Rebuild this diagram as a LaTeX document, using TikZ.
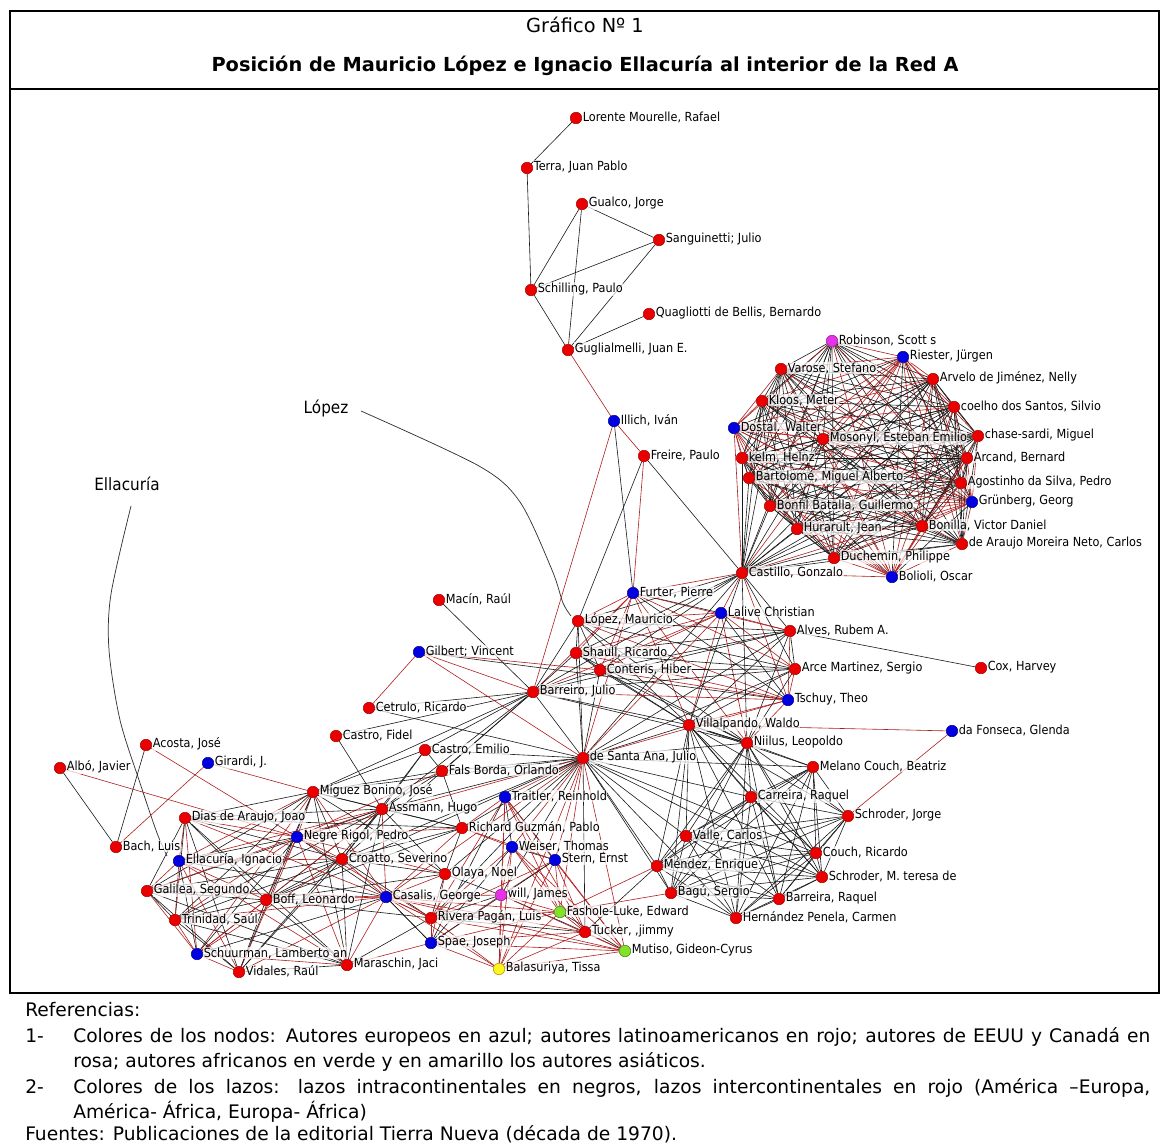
\documentclass[tikz,border=0pt]{standalone}
\usepackage{fontspec}
\setmainfont{DejaVu Sans}
\newfontfamily\narrowf[FakeStretch=0.9]{DejaVu Sans}
\pgfdeclarelayer{bg}
\pgfsetlayers{bg,main}
\tikzset{
  dot/.style={circle, inner sep=0pt, minimum size=8.6pt, line width=0.4pt},
  R/.style={dot, fill={rgb,255:red,235;green,0;blue,0}, draw={rgb,255:red,160;green,0;blue,0}},
  B/.style={dot, fill={rgb,255:red,0;green,0;blue,225}, draw={rgb,255:red,0;green,0;blue,140}},
  P/.style={dot, fill={rgb,255:red,230;green,50;blue,230}, draw={rgb,255:red,150;green,20;blue,150}},
  G/.style={dot, fill={rgb,255:red,130;green,225;blue,40}, draw={rgb,255:red,60;green,130;blue,20}},
  Y/.style={dot, fill={rgb,255:red,255;green,245;blue,30}, draw={rgb,255:red,160;green,150;blue,0}},
  lab/.style={anchor=west, font=\narrowf\fontsize{9.4}{10}\selectfont, inner sep=0.4pt,
    fill=white, fill opacity=0.7, text opacity=1},
  blk/.style={draw=black!90, line width=0.45pt},
  rdl/.style={draw={rgb,255:red,175;green,30;blue,30}, line width=0.45pt},
  ann/.style={font=\narrowf\fontsize{12.7}{14}\selectfont, inner sep=1pt},
  annline/.style={draw=black!80, line width=0.55pt},
  frame/.style={draw=black, line width=1.6pt},
  rf/.style={anchor=base west, inner sep=0pt, font=\fontsize{14}{17}\selectfont},
}
\def\mapR{A}\def\mapP{A}\def\mapB{E}\def\mapG{F}\def\mapY{S}
\newcommand\mknode[5]{%
  \node[#4] (#1) at (#2,#3) {};
  \node[lab] (#1-l) at (#2+6,#3-1) {#5};
  \expandafter\edef\csname grp#1\endcsname{\csname map#4\endcsname}}
\newcommand\mkedge[2]{%
  \edef\ga{\csname grp#1\endcsname}\edef\gb{\csname grp#2\endcsname}%
  \ifx\ga\gb\draw[blk] (#1) -- (#2);\else\draw[rdl] (#1) -- (#2);\fi}
\newcommand\mkclique[1]{\foreach \a [count=\i] in {#1}{\foreach \b [count=\j] in {#1}{\ifnum\j>\i\relax\mkedge{\a}{\b}\fi}}}
\newcommand\mkhub[2]{\foreach \b in {#2}{\mkedge{#1}{\b}}}
\newcommand\mkedges[1]{\foreach \a/\b in {#1}{\mkedge{\a}{\b}}}
\begin{document}
\begin{tikzpicture}[x=0.75pt,y=-0.75pt]
\useasboundingbox (0,0) rectangle (1161,1146);
% frame
\draw[frame] (10,11) rectangle (1159,993);
\draw[frame] (10,89) -- (1159,89);
\node[font=\fontsize{14.5}{17}\selectfont] (h1) at (585,25) {Gráfico Nº 1};
\node[font=\fontsize{14.5}{17}\selectfont\bfseries] (h2) at (585,66) {Posición de Mauricio López e Ignacio Ellacuría al interior de la Red A};
% nodes
\mknode{lor}{576}{118}{R}{Lorente Mourelle, Rafael}
\mknode{ter}{527}{168}{R}{Terra, Juan Pablo}
\mknode{gua}{582}{204}{R}{Gualco, Jorge}
\mknode{san}{659}{240}{R}{Sanguinetti; Julio}
\mknode{sch}{531}{290}{R}{Schilling, Paulo}
\mknode{qua}{649}{314}{R}{Quagliotti de Bellis, Bernardo}
\mknode{gug}{568}{350}{R}{Guglialmelli, Juan E.}
\mknode{ill}{614}{421}{B}{Illich, Iván}
\mknode{fre}{644}{456}{R}{Freire, Paulo}
\mknode{rob}{832}{341}{P}{Robinson, Scott s}
\mknode{rie}{903}{357}{B}{Riester, Jürgen}
\mknode{var}{781}{369}{R}{Varose, Stefano}
\mknode{arv}{933}{379}{R}{Arvelo de Jiménez, Nelly}
\mknode{klo}{762}{401}{R}{Kloos, Meter}
\mknode{coe}{954}{407}{R}{coelho dos Santos, Silvio}
\mknode{dos}{734}{428}{B}{Dostal. Walter}
\mknode{mos}{823}{439}{R}{Mosonyl, Esteban Emilio}
\mknode{cha}{978}{436}{R}{chase-sardi, Miguel}
\mknode{kel}{742}{458}{R}{kelm, Helnz}
\mknode{arc}{967}{458}{R}{Arcand, Bernard}
\mknode{bto}{749}{478}{R}{Bartolomé, Miguel Alberto}
\mknode{ago}{961}{483}{R}{Agostinho da Silva, Pedro}
\mknode{gru}{972}{502}{B}{Grünberg, Georg}
\mknode{bfb}{770}{506}{R}{Bonfil Batalla, Guillermo}
\mknode{hur}{797}{529}{R}{Hurarult, Jean}
\mknode{bnl}{922}{526}{R}{Bonilla, Victor Daniel}
\mknode{ara}{962}{544}{R}{de Araujo Moreira Neto, Carlos}
\mknode{duc}{834}{558}{R}{Duchemin, Philippe}
\mknode{cas}{742}{573}{R}{Castillo, Gonzalo}
\mknode{bol}{892}{577}{B}{Bolioli, Oscar}
\mknode{fur}{633}{593}{B}{Furter, Pierre}
\mknode{lal}{721}{613}{B}{Lalive Christian}
\mknode{mac}{439}{600}{R}{Macín, Raúl}
\mknode{lop}{578}{621}{R}{López, Mauricio}
\mknode{alv}{790}{631}{R}{Alves, Rubem A.}
\mknode{gil}{419}{652}{B}{Gilbert; Vincent}
\mknode{sha}{576}{653}{R}{Shaull, Ricardo}
\mknode{con}{600}{670}{R}{Conteris, Hiber}
\mknode{arce}{795}{669}{R}{Arce Martinez, Sergio}
\mknode{cox}{981}{668}{R}{Cox, Harvey}
\mknode{brr}{533}{692}{R}{Barreiro, Julio}
\mknode{tsc}{788}{700}{B}{Tschuy, Theo}
\mknode{cet}{369}{708}{R}{Cetrulo, Ricardo}
\mknode{vil}{689}{725}{R}{Villalpando, Waldo}
\mknode{fon}{952}{731}{B}{da Fonseca, Glenda}
\mknode{nii}{747}{743}{R}{Niilus, Leopoldo}
\mknode{cfi}{336}{736}{R}{Castro, Fidel}
\mknode{aco}{146}{745}{R}{Acosta, José}
\mknode{cem}{425}{750}{R}{Castro, Emilio}
\mknode{dsa}{583}{758}{R}{de Santa Ana, Julio}
\mknode{mel}{813}{767}{R}{Melano Couch, Beatriz}
\mknode{alb}{60}{768}{R}{Albó, Javier}
\mknode{gir}{208}{763}{B}{Girardi, J.}
\mknode{fal}{442}{771}{R}{Fals Borda, Orlando}
\mknode{mig}{313}{792}{R}{Míguez Bonino, José}
\mknode{ass}{382}{809}{R}{Assmann, Hugo}
\mknode{tra}{505}{797}{B}{Traitler, Reinhold}
\mknode{car}{751}{797}{R}{Carreira, Raquel}
\mknode{sjo}{848}{816}{R}{Schroder, Jorge}
\mknode{dia}{185}{818}{R}{Dias de Araujo, Joao}
\mknode{ric}{462}{828}{R}{Richard Guzmán, Pablo}
\mknode{neg}{297}{837}{B}{Negre Rigol, Pedro}
\mknode{val}{686}{836}{R}{Valle, Carlos}
\mknode{wei}{512}{847}{B}{Weiser, Thomas}
\mknode{ste}{555}{860}{B}{Stern, Ernst}
\mknode{bac}{116}{847}{R}{Bach, Luis}
\mknode{ell}{179}{861}{B}{Ellacuría, Ignacio}
\mknode{cro}{342}{859}{R}{Croatto, Severino}
\mknode{cou}{816}{853}{R}{Couch, Ricardo}
\mknode{men}{657}{866}{R}{Méndez, Enrique}
\mknode{ola}{445}{874}{R}{Olaya, Noel}
\mknode{smt}{822}{877}{R}{Schroder, M. teresa de}
\mknode{gal}{147}{891}{R}{Galilea, Segundo}
\mknode{wil}{501}{895}{P}{will, James}
\mknode{bag}{671}{893}{R}{Bagú, Sergio}
\mknode{csl}{386}{897}{B}{Casalis, George}
\mknode{bof}{266}{900}{R}{Boff, Leonardo}
\mknode{bra}{779}{899}{R}{Barreira, Raquel}
\mknode{fas}{560}{912}{G}{Fashole-Luke, Edward}
\mknode{riv}{431}{918}{R}{Rivera Pagán, Luis}
\mknode{her}{736}{918}{R}{Hernández Penela, Carmen}
\mknode{tri}{175}{920}{R}{Trinidad, Saúl}
\mknode{tuc}{585}{932}{R}{Tucker, ,jimmy}
\mknode{spa}{431}{943}{B}{Spae, Joseph}
\mknode{mut}{625}{951}{G}{Mutiso, Gideon-Cyrus}
\mknode{shu}{197}{954}{B}{Schuurman, Lamberto an}
\mknode{mar}{347}{965}{R}{Maraschin, Jaci}
\mknode{vid}{239}{972}{R}{Vidales, Raúl}
\mknode{bal}{499}{969}{Y}{Balasuriya, Tissa}
% annotations
\node[ann] (alop) at (326,408) {López};
\node[ann] (aell) at (127,484) {Ellacuría};
\coordinate (lc0) at (361,411);
\coordinate (ec0) at (131,506);
\begin{pgfonlayer}{bg}
\fill[white] (0,0) rectangle (1161,1146);
\draw[annline] plot[smooth] coordinates {(lc0) (479,466) (520,502) (552,570) (563,603) (571,616)};
\draw[annline] plot[smooth] coordinates {(ec0) (111,594) (109,650) (120,720) (140,783) (157,833) (167,856)};
% edges
\mkedges{lor/ter,ter/sch,gua/sch,gua/gug,gua/san,san/sch,san/gug,sch/gug,qua/gug,gug/ill,ill/fur,ill/fre,ill/brr,fre/fur,fre/lop,fre/cas,gil/brr,gil/cet,gil/con,gil/tsc,mac/brr,cet/brr,cfi/ass,cfi/brr,alv/cox,vil/fon,fon/sjo,bac/alb,bac/aco,bac/gir,alb/neg,aco/neg,gir/mig,cem/fal,cem/mig,cem/ass,cem/brr,cem/cro,fal/mig,fal/ass,fal/ric,fal/brr,fal/neg,brr/mig,brr/ass,brr/cro,tra/wei,wei/ste,tra/ste,men/fas,bag/fas,men/tuc}
\mkclique{rob,rie,var,arv,klo,coe,dos,mos,cha,kel,arc,bto,ago,gru,bfb,hur,bnl,ara,duc,cas,bol}
\mkclique{fur,lal,lop,sha,con,alv,arce,tsc,brr,vil,nii}
\mkhub{cas}{fur,lal,lop,sha,con,alv,arce,tsc,vil,brr,nii,dsa}
\mkhub{dsa}{fur,lal,lop,sha,con,alv,arce,tsc,brr,vil,nii,cem,fal,mig,ass,tra,ric,wei,ste,ola,wil,fas,tuc,mut,bal,riv,csl,cro,neg,bof,men,val,car,mel,bag,her,gil,cet,smt,cou}
\mkclique{vil,nii,mel,car,sjo,val,cou,men,smt,bag,bra,her}
\mkclique{mig,ass,dia,neg,ell,cro,gal,bof,csl,tri,shu,mar,vid}
\mkhub{ric}{mig,ass,neg,cro,csl,bof,dia,wei,ste,tra,ola}
\mkhub{ola}{cro,csl,mig,ass,neg,bof,riv,wil,spa}
\mkhub{riv}{csl,spa,bof,cro,mar,neg}
\mkhub{spa}{csl,mar}
\mkclique{wil,fas,tuc,mut,bal,riv,spa,csl}
\mkhub{tra}{fas,tuc,mut,bal,wil,riv,spa}
\mkhub{wei}{fas,tuc,mut,bal,wil,riv,spa}
\mkhub{ste}{fas,tuc,mut,bal,wil,riv,spa}
\end{pgfonlayer}
% references
\node[rf] (r0) at (25,1016) {Referencias:};
\node[rf] (r1n) at (25,1042) {1-};
\node[rf] (r1a) at (73,1042) {\makebox[807.75pt][s]{Colores de los nodos: Autores europeos en azul; autores latinoamericanos en rojo; autores de EEUU y Canadá en}};
\node[rf] (r1b) at (73,1067) {rosa; autores africanos en verde y en amarillo los autores asiáticos.};
\node[rf] (r2n) at (25,1093) {2-};
\node[rf] (r2a) at (73,1093) {\makebox[807.75pt][s]{Colores de los lazos: lazos intracontinentales en negros, lazos intercontinentales en rojo (América –Europa,}};
\node[rf] (r2b) at (73,1118) {América- África, Europa- África)};
\node[rf] (r3) at (25,1140) {Fuentes: Publicaciones de la editorial Tierra Nueva (década de 1970).};
\end{tikzpicture}
\end{document}
